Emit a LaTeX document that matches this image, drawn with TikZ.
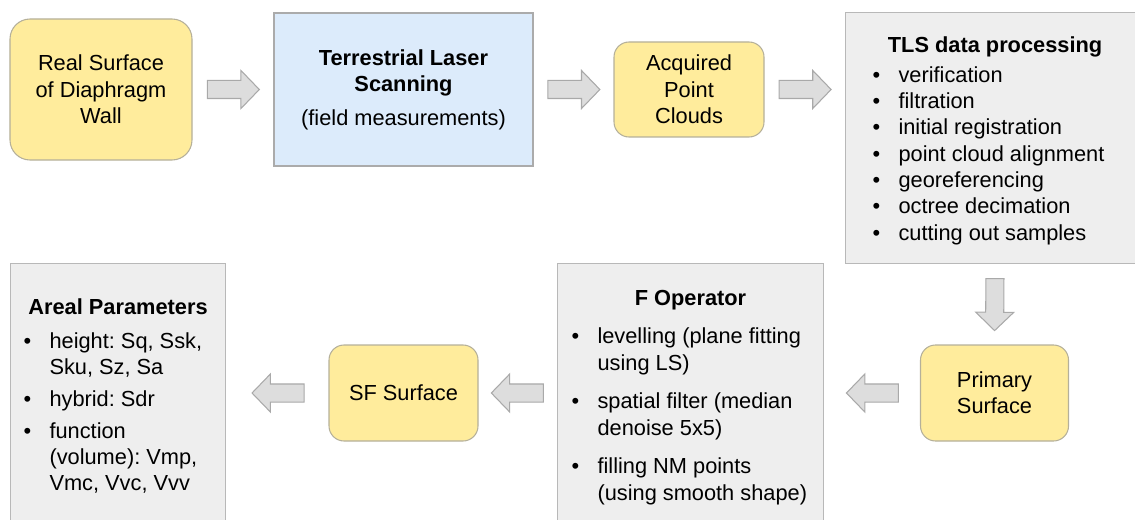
\documentclass[tikz,border=0pt]{standalone}
\usepackage{fontspec}
\setmainfont{Liberation Sans}
\usepackage{array}
\usetikzlibrary{shapes.arrows,calc}
\frenchspacing

\definecolor{surfyellow}{HTML}{FFEC9C}
\definecolor{surfline}{HTML}{B5B09A}
\definecolor{scanblue}{HTML}{DCEBFB}
\definecolor{scanline}{HTML}{ABABAB}
\definecolor{panelgray}{HTML}{EEEEEE}
\definecolor{panelline}{HTML}{B8B8B8}
\definecolor{arrowfill}{HTML}{DDDDDD}
\definecolor{arrowline}{HTML}{A9A9A9}

% bullet list inside a grey panel: #1 = left indent
\newcommand{\pitems}[2]{\begin{tabular}[t]{@{\hspace{#1}}p{5.2mm}@{}l@{}}#2\end{tabular}}

\begin{document}
\begin{tikzpicture}[x=0.2mm, y=-0.2mm,
      font=\fontsize{12.4}{15}\selectfont,
      surf/.style={draw=surfline, fill=surfyellow, rounded corners=3mm, align=center, line width=0.6pt},
      scan/.style={draw=scanline, fill=scanblue, align=center, line width=0.6pt},
      panel/.style={draw=panelline, fill=panelgray, inner sep=0pt, anchor=north west, line width=0.6pt},
      blk/.style={single arrow, draw=arrowline, fill=arrowfill, minimum height=10.4mm,
        single arrow head extend=2mm, single arrow tip angle=92, inner xsep=0pt, inner ysep=1.7mm,
        sloped, allow upside down, pos=0.45, line width=0.6pt}
    ]
    \useasboundingbox (0,0) rectangle (1135,519);
    \clip (0,0) rectangle (1135,519);

    % top row
    \node[surf, rounded corners=4mm, minimum width=36.4mm, minimum height=28.2mm] (real) at (101,89.5) {Real Surface\\of Diaphragm\\Wall};
    \node[scan, minimum width=51.8mm, minimum height=30.6mm] (tls) at (403.5,89.5) {\textbf{Terrestrial Laser}\\\textbf{Scanning}\\[4pt](field measurements)};
    \node[surf, minimum width=30mm, minimum height=19mm] (acq) at (689,89.5) {Acquired\\Point\\Clouds};
    \node[panel] (proc) at (845,12) {\parbox[c][50.2mm][t]{59.8mm}{\vspace*{4.8mm}%
      {\centering\textbf{TLS data processing}\par}\vspace{2pt}\noindent
      \pitems{5.4mm}{\textbullet & verification\\ \textbullet & filtration\\ \textbullet & initial registration\\
        \textbullet & point cloud alignment\\ \textbullet & georeferencing\\ \textbullet & octree decimation\\
        \textbullet & cutting out samples}}};

    % bottom row
    \node[surf, minimum width=29.6mm, minimum height=19.2mm] (prim) at (994.5,393) {Primary\\Surface};
    \node[panel] (fop) at (557,263) {\parbox[c][56mm][t]{53.2mm}{\vspace*{5.4mm}%
      {\centering\textbf{F Operator}\par}\vspace{6.6pt}\noindent
      \pitems{2.8mm}{\textbullet & levelling (plane fitting\\ & using LS)\\[7pt]
        \textbullet & spatial filter (median\\ & denoise 5x5)\\[7pt]
        \textbullet & filling NM points\\ & (using smooth shape)}}};
    \node[surf, minimum width=29.8mm, minimum height=19.2mm] (sf) at (403.5,393) {SF Surface};
    \node[panel] (areal) at (10,263) {\parbox[c][56mm][t]{43mm}{\vspace*{7mm}%
      {\centering\textbf{Areal Parameters}\par}\vspace{4.4pt}\noindent
      \pitems{2.6mm}{\textbullet & height: Sq, Ssk,\\ & Sku, Sz, Sa\\[3pt]
        \textbullet & hybrid: Sdr\\[3pt]
        \textbullet & function\\ & (volume): Vmp,\\ & Vmc, Vvc, Vvv}}};

    % block arrows
    \path (real) -- node[blk] {} (tls);
    \path (tls) -- node[blk] {} (acq);
    \path (acq.east) -- node[blk] {} (acq.east -| proc.west);
    \path (proc.south) -- node[blk] {} (prim.north);
    \path (prim.west) -- node[blk] {} (prim.west -| fop.east);
    \path (sf.east -| fop.west) -- node[blk] {} (sf.east);
    \path (sf.west) -- node[blk] {} (sf.west -| areal.east);
  \end{tikzpicture}
\end{document}
